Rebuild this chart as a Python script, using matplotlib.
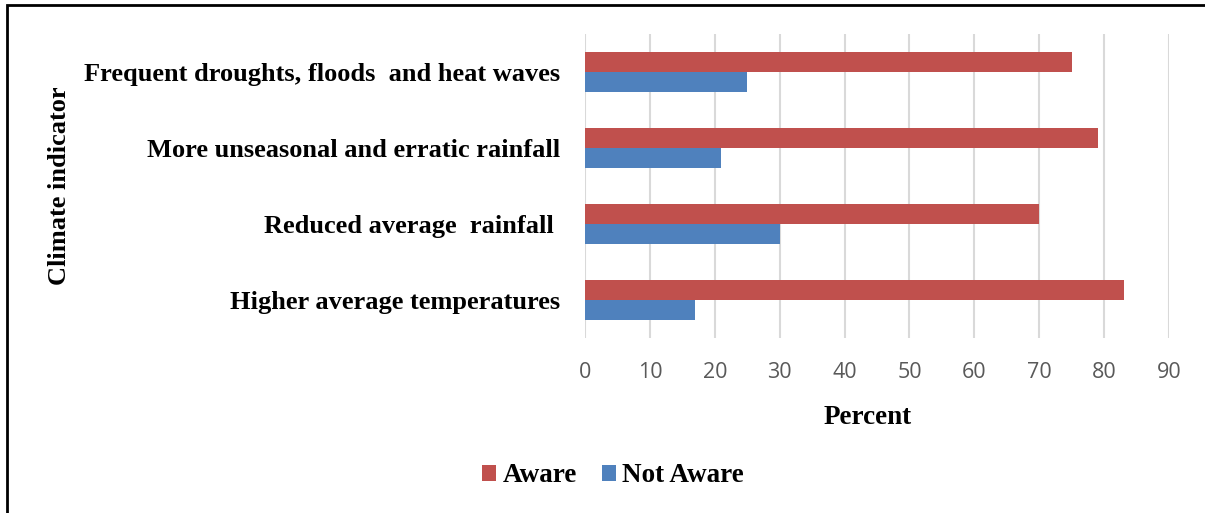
import matplotlib.pyplot as plt
import numpy as np
from matplotlib.patches import Rectangle

# survey data
indicators = ["Frequent droughts, floods  and heat waves",
              "More unseasonal and erratic rainfall",
              "Reduced average  rainfall ",
              "Higher average temperatures"]
aware = [75, 79, 70, 83]
not_aware = [25, 21, 30, 17]

red = "#C0504D"
blue = "#4F81BD"
serif = "Liberation Serif"

fig = plt.figure(figsize=(12.05, 5.13), dpi=100)
ax = fig.add_axes([585 / 1205, 1 - 338 / 513, (1169 - 585) / 1205, (338 - 34) / 513])

y = np.arange(len(indicators))
h = 0.26
ax.barh(y - h / 2, aware, height=h, color=red, label="Aware")
ax.barh(y + h / 2, not_aware, height=h, color=blue, label="Not Aware")

ax.set_xlim(0, 90)
ax.set_ylim(len(indicators) - 0.5, -0.5)
ax.set_xticks(range(0, 91, 10))
ax.set_yticks(y)
ax.set_yticklabels(indicators, fontfamily=serif, fontweight="bold", fontsize=19)
ax.tick_params(axis="y", length=0, pad=18)
ax.tick_params(axis="x", length=0, pad=17, labelsize=15.5, labelcolor="#595959")
for lbl in ax.get_xticklabels():
    lbl.set_fontfamily("Open Sans")

ax.grid(axis="x", color="#D9D9D9", linewidth=1.5)
ax.set_axisbelow(True)
for s in ax.spines.values():
    s.set_visible(False)

fig.text(868 / 1205, 1 - 418 / 513, "Percent", ha="center", va="center",
         fontfamily=serif, fontweight="bold", fontsize=19.5)
fig.text(60 / 1205, 1 - 186 / 513, "Climate indicator", ha="center", va="center",
         rotation=90, fontfamily=serif, fontweight="bold", fontsize=19)

fig.legend(loc="center", bbox_to_anchor=(613 / 1205, 1 - 476 / 513), ncol=2,
           frameon=False, prop={"family": serif, "weight": "bold", "size": 19.5},
           handlelength=0.52, handleheight=0.52, handletextpad=0.25, columnspacing=0.9)

# outer frame
fig.patches.append(Rectangle((7 / 1205, -0.01), 1.1, 1 - 5 / 513 + 0.01,
                             transform=fig.transFigure, fill=False,
                             edgecolor="black", linewidth=2))

fig.savefig("out.png", dpi=100)
